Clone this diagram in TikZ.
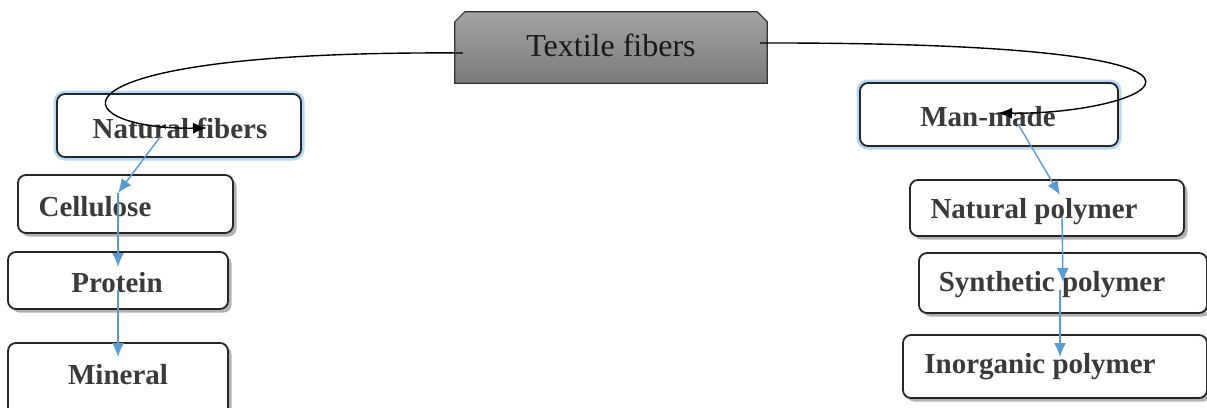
\documentclass[tikz,border=0pt]{standalone}
\usepackage{fontspec}
\setmainfont{Liberation Serif}
\usetikzlibrary{shadows,arrows.meta,calc}
\definecolor{txt}{HTML}{3A3A3A}
\definecolor{arrblue}{HTML}{5B9BD5}
\definecolor{glow}{HTML}{B5D8F7}
\tikzset{
  box/.style={draw=black!85, line width=1.8pt, rounded corners=8pt, fill=white},
  shbox/.style={box, drop shadow={shadow xshift=3.5pt, shadow yshift=-3.5pt, opacity=.55, fill=black!55}},
  glowbox/.style={box, preaction={draw=glow, line width=7pt}},
  lbl/.style={font=\bfseries\fontsize{29}{31}\selectfont, text=txt, inner sep=0pt},
  bluearr/.style={draw=arrblue, line width=1.4pt, -{Latex[length=14pt,width=12pt]}},
  blackarr/.style={draw=black, line width=1.4pt, -{Latex[length=14pt,width=11pt]}}
}
\begin{document}
\begin{tikzpicture}[x=1pt,y=-1pt]
\useasboundingbox (0,0) rectangle (1207,407);
% main node
\node[minimum width=312pt, minimum height=71pt, inner sep=0pt] (main) at (611,47.5) {};
\shade[top color=black!36, bottom color=black!52, draw=black!80, line width=1.2pt]
  ($(main.south west)$) -- ($(main.north west)+(0,10)$) -- ($(main.north west)+(10,0)$)
  -- ($(main.north east)+(-10,0)$) -- ($(main.north east)+(0,10)$) -- (main.south east) -- cycle;
\node[font=\fontsize{32}{34}\selectfont, text=black!90, inner sep=0pt] (maint) at (611,45) {Textile fibers};

% second level
\node[glowbox, minimum width=244pt, minimum height=63pt] (nat) at (179,125.5) {};
\node[lbl] (natt) at (180,128) {Natural fibers};
\node[glowbox, minimum width=258pt, minimum height=63pt] (man) at (989,114.5) {};
\node[lbl] (mant) at (988,117) {Man-made};

% left column
\node[shbox, minimum width=215pt, minimum height=58pt] (cel) at (125.5,204) {};
\node[lbl] (celt) at (95,207) {Cellulose};
\node[shbox, minimum width=220pt, minimum height=57pt] (pro) at (118,280.5) {};
\node[lbl] (prot) at (117,283) {Protein};
\node[shbox, minimum width=220pt, minimum height=76pt] (min) at (118,381) {};
\node[lbl] (mint) at (118,375) {Mineral};

% right column
\node[shbox, minimum width=274pt, minimum height=56pt] (npol) at (1047,208) {};
\node[lbl] (npolt) at (1034,212) {Natural polymer};
\node[shbox, minimum width=288pt, minimum height=60pt] (spol) at (1063,283) {};
\node[lbl] (spolt) at (1052,285) {Synthetic polymer};
\node[shbox, minimum width=304pt, minimum height=63pt] (ipol) at (1055,366.5) {};
\node[lbl] (ipolt) at (1040,367) {Inorganic polymer};

% black curved connectors
\draw[blackarr] ($(main.west)+(8,5.5)$) .. controls (28,50) and (60,130) .. ($(natt.center)+(27,0)$);
\draw[blackarr] ($(main.east)+(-7,-4.5)$) .. controls (1312,42) and (1150,115) .. ($(mant.center)+(10,-4)$);

% blue connectors
\draw[bluearr] ($(natt.center)+(-20,9)$) -- ($(cel.center)+(-7.5,-11)$);
\draw[bluearr] ($(cel.center)+(-7.5,-11)$) -- ($(pro.center)+(0,-13.5)$);
\draw[bluearr] ($(prot.center)+(1,7)$) -- ($(min.center)+(0,-24)$);
\draw[bluearr] ($(mant.center)+(30,7)$) -- ($(npol.center)+(13,-13)$);
\draw[bluearr] ($(npol.center)+(15,9)$) -- ($(spol.center)+(0,-1)$);
\draw[bluearr] ($(spolt.center)+(8,5)$) -- ($(ipol.center)+(5,-9.5)$);
\end{tikzpicture}
\end{document}
